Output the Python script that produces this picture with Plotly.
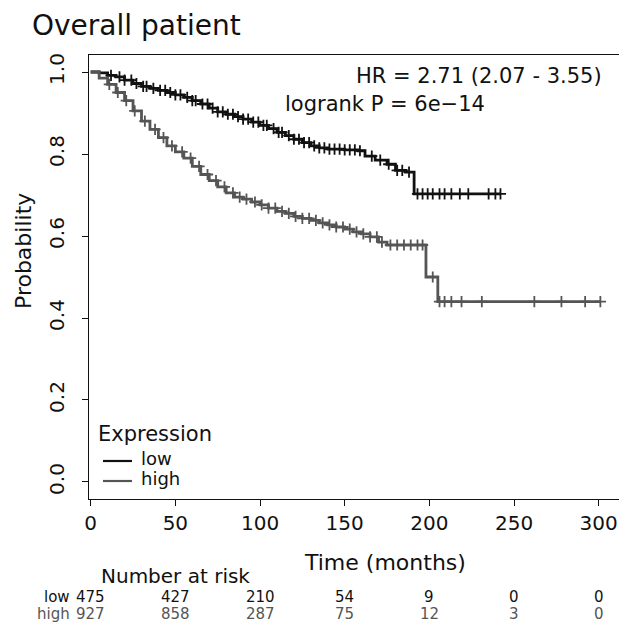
import numpy as np
import plotly.graph_objects as go

# ---- data ----
low_time = [0, 5, 10, 15, 20, 25, 30, 35, 40, 45, 50, 55, 60, 65, 70, 75, 80, 85, 90, 95,
            100, 105, 110, 115, 120, 125, 130, 135, 140, 150, 158, 162, 168, 175, 180, 186, 191, 242]
low_surv = [1.0, 0.998, 0.992, 0.988, 0.980, 0.972, 0.965, 0.960, 0.955, 0.950, 0.944, 0.938,
            0.930, 0.922, 0.912, 0.903, 0.897, 0.891, 0.885, 0.878, 0.870, 0.862, 0.853, 0.845,
            0.836, 0.828, 0.820, 0.815, 0.812, 0.810, 0.808, 0.795, 0.785, 0.775, 0.760, 0.756,
            0.703, 0.703]

high_time = [0, 5, 10, 15, 20, 25, 30, 35, 40, 45, 50, 55, 60, 65, 70, 75, 80, 85, 90, 95,
             100, 105, 110, 115, 120, 125, 130, 135, 140, 145, 150, 155, 160, 165, 170, 175,
             198, 205, 301]
high_surv = [1.0, 0.985, 0.970, 0.950, 0.930, 0.905, 0.880, 0.860, 0.840, 0.820, 0.805, 0.790,
             0.770, 0.750, 0.735, 0.720, 0.705, 0.695, 0.690, 0.683, 0.676, 0.668, 0.660, 0.655,
             0.648, 0.643, 0.638, 0.632, 0.627, 0.622, 0.617, 0.610, 0.605, 0.598, 0.585, 0.578,
             0.500, 0.440, 0.440]

low_censor = [12, 17, 20, 24, 27, 31, 33, 37, 41, 44, 47, 50, 53, 57, 60, 62, 66, 69, 72, 75,
              78, 81, 84, 87, 90, 93, 96, 99, 102, 104, 108, 111, 113, 117, 120, 123, 126, 129,
              132, 135, 138, 141, 144, 147, 150, 153, 156, 159, 166, 171, 176, 181, 184, 188,
              193, 196, 199, 202, 206, 209, 213, 218, 223, 235, 239, 242]
high_censor = [11, 16, 21, 26, 32, 38, 43, 48, 54, 59, 64, 69, 74, 79, 84, 88, 92, 97, 101,
               105, 109, 113, 117, 121, 125, 129, 133, 137, 141, 145, 149, 153, 157, 161, 165,
               169, 172, 177, 181, 185, 189, 193, 196, 202, 206, 209, 213, 219, 231, 262,
               278, 292, 301]

risk_times = [0, 50, 100, 150, 200, 250, 300]
risk_low = [475, 427, 210, 54, 9, 0, 0]
risk_high = [927, 858, 287, 75, 12, 3, 0]

x_ticks = [0, 50, 100, 150, 200, 250, 300]
y_ticks = [0.0, 0.2, 0.4, 0.6, 0.8, 1.0]
y_tick_text = ["0.0", "0.2", "0.4", "0.6", "0.8", "1.0"]

title_text = "Overall patient"
hr_text = "HR = 2.71 (2.07 - 3.55)"
p_text = "logrank P = 6e\u221214"
legend_title = "Expression"
group_names = ["low", "high"]

LOW_COL = "#111111"
HIGH_COL = "#555555"
FONT = "DejaVu Sans"


def step_value(times, surv, t):
    idx = np.searchsorted(np.asarray(times), t, side="right") - 1
    return np.asarray(surv)[np.clip(idx, 0, len(surv) - 1)]


fig = go.Figure()
fig.add_trace(go.Scatter(x=low_time, y=low_surv, mode="lines", line=dict(color=LOW_COL, width=2.8, shape="hv"),
                         name="low", showlegend=False))
fig.add_trace(go.Scatter(x=high_time, y=high_surv, mode="lines", line=dict(color=HIGH_COL, width=2.8, shape="hv"),
                         name="high", showlegend=False))
fig.add_trace(go.Scatter(x=low_censor, y=step_value(low_time, low_surv, low_censor), mode="markers",
                         marker=dict(symbol="cross-thin", size=8, line=dict(color=LOW_COL, width=1.8)),
                         showlegend=False, hoverinfo="skip"))
fig.add_trace(go.Scatter(x=high_censor, y=step_value(high_time, high_surv, high_censor), mode="markers",
                         marker=dict(symbol="cross-thin", size=8, line=dict(color=HIGH_COL, width=1.8)),
                         showlegend=False, hoverinfo="skip"))

# the page has an 8px body margin: the figure's origin sits at (8, 8) in the page
OFF = 8
W, H = 627 - OFF, 637 - OFF
# plot-area edges in page pixels
PL, PR, PT, PB = 89, 619, 55, 499
L, R, T, B = PL - OFF, W - (PR - OFF), PT - OFF, H - (PB - OFF)
pw, ph = PR - PL, PB - PT


def px(xpix):
    return (xpix - PL) / pw


def py(ypix):
    return (PB - ypix) / ph


ann = []
shapes = []


def text(s, x, y, size, anchor="center", color="#111", angle=0, xref="paper"):
    ann.append(dict(text=s, xref=xref, yref="paper", x=x, y=y, xanchor=anchor, yanchor="middle",
                    showarrow=False, textangle=angle, font=dict(size=size, color=color, family=FONT)))


text(title_text, px(30), py(25), 28, "left")
text(hr_text, px(604), py(76), 21, "right")
text(p_text, px(283), py(104), 21, "left")
text("Probability", px(23), py(251), 22, angle=-90)
text("Time (months)", px(385), py(562), 22)
text("Number at risk", px(175), py(576), 20)
text("low", px(72), py(597), 15, "right", LOW_COL)
text("high", px(72), py(614), 15, "right", HIGH_COL)
for t, a, b in zip(risk_times, risk_low, risk_high):
    text(str(a), t, py(597), 15, "center", LOW_COL, xref="x")
    text(str(b), t, py(614), 15, "center", HIGH_COL, xref="x")

# manual legend
text(legend_title, px(96), py(434), 21, "left")
for name, col, ly in zip(group_names, [LOW_COL, HIGH_COL], [461, 481]):
    shapes.append(dict(type="line", xref="paper", yref="paper", x0=px(103), x1=px(132), y0=py(ly), y1=py(ly),
                       line=dict(color=col, width=2.2)))
    text(name, px(139), py(ly - 3), 18, "left")

fig.update_layout(
    width=W, height=H,
    margin=dict(l=L, r=R, t=T, b=B, autoexpand=False),
    paper_bgcolor="white", plot_bgcolor="white",
    font=dict(family=FONT, color="#111"),
    annotations=ann,
    showlegend=False,
    shapes=shapes,
)
fig.update_xaxes(range=[-1, 312], tickvals=x_ticks, ticktext=[str(v) for v in x_ticks], automargin=False,
                 showgrid=False, zeroline=False, showline=True, linecolor="#111", linewidth=1,
                 mirror=True, ticks="outside", ticklen=6, tickcolor="#111",
                 tickfont=dict(size=20, family=FONT, color="#111"))
fig.update_yaxes(range=[-0.0415, 1.0415], tickvals=y_ticks, ticktext=y_tick_text, tickangle=-90,
                 automargin=False, ticklabelstandoff=10,
                 showgrid=False, zeroline=False, showline=True, linecolor="#111", linewidth=1,
                 mirror=True, ticks="outside", ticklen=6, tickcolor="#111",
                 tickfont=dict(size=20, family=FONT, color="#111"))

fig.write_html("out.html")
